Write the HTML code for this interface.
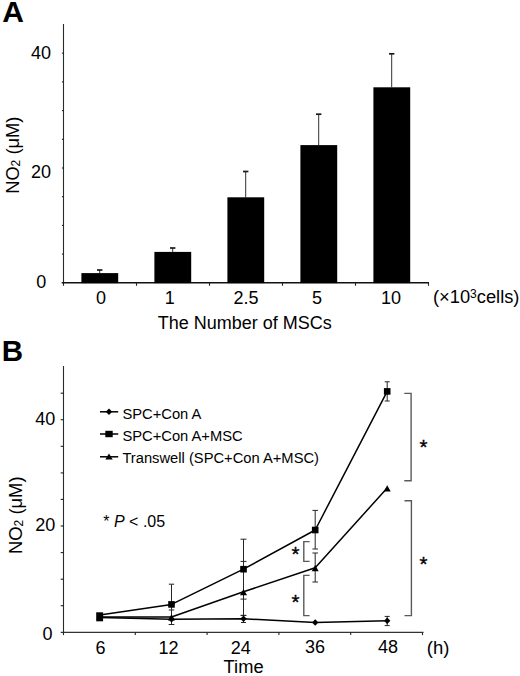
<!DOCTYPE html>
<html><head><meta charset="utf-8">
<style>
html,body{margin:0;padding:0;background:#fff;}
body{width:520px;height:676px;overflow:hidden;}
svg{display:block;font-family:"Liberation Sans",sans-serif;fill:#000;}
</style></head><body>
<svg width="520" height="676" viewBox="0 0 520 676">
<rect x="0" y="0" width="520" height="676" fill="#fff"/>
<!-- Panel A -->
<text x="2.2" y="22" font-size="30" font-weight="bold">A</text>
<line x1="63.5" y1="24" x2="63.5" y2="283.5" stroke="#2a2a2a" stroke-width="1.1"/>
<line x1="61.7" y1="282.8" x2="429" y2="282.8" stroke="#111" stroke-width="1.6"/>
<g stroke="#222" stroke-width="1.1">
<line x1="61.9" y1="254.1" x2="63.5" y2="254.1"/>
<line x1="61.9" y1="225.4" x2="63.5" y2="225.4"/>
<line x1="61.9" y1="196.7" x2="63.5" y2="196.7"/>
<line x1="61.9" y1="168.0" x2="63.5" y2="168.0"/>
<line x1="61.9" y1="139.3" x2="63.5" y2="139.3"/>
<line x1="61.9" y1="110.6" x2="63.5" y2="110.6"/>
<line x1="61.9" y1="81.9" x2="63.5" y2="81.9"/>
<line x1="61.9" y1="53.2" x2="63.5" y2="53.2"/>
<line x1="63.5" y1="282.8" x2="63.5" y2="285.8"/>
<line x1="136.5" y1="282.8" x2="136.5" y2="285.8"/>
<line x1="209.5" y1="282.8" x2="209.5" y2="285.8"/>
<line x1="282.5" y1="282.8" x2="282.5" y2="285.8"/>
<line x1="355.5" y1="282.8" x2="355.5" y2="285.8"/>
<line x1="428.5" y1="282.8" x2="428.5" y2="285.8"/>
</g>
<g fill="#000">
<rect x="81.4" y="273.1" width="36.8" height="10.0"/>
<rect x="154.4" y="251.9" width="36.8" height="31.2"/>
<rect x="227.4" y="197.3" width="36.8" height="85.8"/>
<rect x="300.4" y="145.1" width="36.8" height="138.0"/>
<rect x="373.4" y="87.3" width="36.8" height="195.8"/>
</g>
<g stroke="#1a1a1a" stroke-width="0.9" fill="none">
<path d="M99.7 273.1V270.0"/><path d="M97.0 270.0h5.4" stroke-width="1.7"/>
<path d="M172.7 251.9V248.0"/><path d="M170.0 248.0h5.4" stroke-width="1.7"/>
<path d="M245.7 197.3V171.5"/><path d="M243.0 171.5h5.4" stroke-width="1.7"/>
<path d="M318.7 145.1V114.2"/><path d="M316.0 114.2h5.4" stroke-width="1.7"/>
<path d="M391.7 87.3V53.8"/><path d="M389.0 53.8h5.4" stroke-width="1.7"/>
</g>
<g font-size="18" text-anchor="end">
<text x="51" y="59.0">40</text>
<text x="51" y="178.2">20</text>
<text x="46.2" y="287.6">0</text>
</g>
<g font-size="18" text-anchor="middle">
<text x="101" y="304">0</text>
<text x="169.7" y="304">1</text>
<text x="246" y="304">2.5</text>
<text x="317" y="304">5</text>
<text x="391" y="304">10</text>
<text x="244.8" y="329.2">The Number of MSCs</text>
</g>
<text x="433" y="303.3" font-size="18.3">(×10<tspan font-size="12" dy="-5.5">3</tspan><tspan dy="5.5">cells)</tspan></text>
<text transform="translate(19,193.8) rotate(-90)" font-size="18.3">NO<tspan font-size="12" dy="1">2</tspan><tspan dy="-1"> (μM)</tspan></text>
<!-- Panel B -->
<text x="1.8" y="360.6" font-size="29.5" font-weight="bold">B</text>
<line x1="63.5" y1="366" x2="63.5" y2="632.9" stroke="#2a2a2a" stroke-width="1.1"/>
<line x1="60.7" y1="632.3" x2="423.5" y2="632.3" stroke="#333" stroke-width="1.3"/>
<g stroke="#222" stroke-width="1.1">
<line x1="60.7" y1="605.7" x2="63.5" y2="605.7"/>
<line x1="60.7" y1="579.2" x2="63.5" y2="579.2"/>
<line x1="60.7" y1="552.6" x2="63.5" y2="552.6"/>
<line x1="60.7" y1="526.0" x2="63.5" y2="526.0"/>
<line x1="60.7" y1="499.4" x2="63.5" y2="499.4"/>
<line x1="60.7" y1="472.9" x2="63.5" y2="472.9"/>
<line x1="60.7" y1="446.3" x2="63.5" y2="446.3"/>
<line x1="60.7" y1="419.7" x2="63.5" y2="419.7"/>
<line x1="60.7" y1="393.2" x2="63.5" y2="393.2"/>
<line x1="63.5" y1="632.3" x2="63.5" y2="635.0999999999999"/>
<line x1="135.3" y1="632.3" x2="135.3" y2="635.0999999999999"/>
<line x1="207.1" y1="632.3" x2="207.1" y2="635.0999999999999"/>
<line x1="278.9" y1="632.3" x2="278.9" y2="635.0999999999999"/>
<line x1="350.7" y1="632.3" x2="350.7" y2="635.0999999999999"/>
<line x1="422.5" y1="632.3" x2="422.5" y2="635.0999999999999"/>
</g>
<g stroke="#262626" stroke-width="1" fill="none">
<path d="M171.5 584.2V624.5M168.8 584.2h5.4M168.8 624.5h5.4"/>
<path d="M171.5 610V624.5M168.8 610h5.4M168.8 624.5h5.4"/>
<path d="M243.5 539.2V599.1M240.5 539.2h6M240.5 599.1h6"/>
<path d="M243.5 561.4V615.4M240.5 561.4h6M240.5 615.4h6"/>
<path d="M243.5 615.4V622.5M241.0 615.4h5M241.0 622.5h5"/>
<path d="M315.2 510.4V549M312.4 510.4h5.6M312.4 549h5.6"/>
<path d="M315.2 553V582M312.4 553h5.6M312.4 582h5.6"/>
<path d="M387.2 381.8V401M384.7 381.8h5M384.7 401h5"/>
<path d="M387.2 616.4V625.6M384.7 616.4h5M384.7 625.6h5"/>
</g>
<g stroke="#000" stroke-width="1.5" fill="none" stroke-linejoin="round">
<polyline points="99.9,615.0 171.5,604.4 243.5,569.2 315.2,530 387.2,391.4"/>
<polyline points="99.9,617 171.5,617 243.5,591.8 315.2,567.8 387.2,488"/>
<polyline points="99.9,617.6 171.5,619.2 243.5,618.8 315.2,622.5 387.2,620.8"/>
</g>
<g fill="#000">
<rect x="168.20" y="601.10" width="6.6" height="6.6"/>
<rect x="240.20" y="565.90" width="6.6" height="6.6"/>
<rect x="311.90" y="526.70" width="6.6" height="6.6"/>
<rect x="383.90" y="388.10" width="6.6" height="6.6"/>
<rect x="96.2" y="612.3" width="6.9" height="9"/>
<path d="M171.50 614.20L175.00 620.40H168.00Z"/>
<path d="M243.50 589.00L247.00 595.20H240.00Z"/>
<path d="M315.20 565.00L318.70 571.20H311.70Z"/>
<path d="M387.20 485.20L390.70 491.40H383.70Z"/>
<path d="M171.50 616.00L174.70 619.20L171.50 622.40L168.30 619.20Z"/>
<path d="M243.50 615.60L246.70 618.80L243.50 622.00L240.30 618.80Z"/>
<path d="M315.20 619.30L318.40 622.50L315.20 625.70L312.00 622.50Z"/>
<path d="M387.20 617.60L390.40 620.80L387.20 624.00L384.00 620.80Z"/>
</g>
<g stroke="#5a5a5a" stroke-width="1.4" fill="none">
<path d="M404.3 393.4H411.1V480.8H404.3"/>
<path d="M404.5 500.8H411.4V615.6H404.5"/>
<path d="M309.6 541.6H303.8V561.4H309.6"/>
<path d="M309.6 575.4H303.8V615.6H309.6"/>
</g>
<g font-size="20.5" text-anchor="middle" stroke="#000" stroke-width="0.35">
<text x="423.5" y="453.6">*</text>
<text x="423.5" y="571.2">*</text>
<text x="295.4" y="560.8">*</text>
<text x="295.4" y="609.4">*</text>
</g>
<g stroke="#000" stroke-width="1.5">
<line x1="100" y1="411.8" x2="118.2" y2="411.8"/>
<line x1="100" y1="434" x2="118.2" y2="434"/>
<line x1="100" y1="456.8" x2="118.2" y2="456.8"/>
</g>
<path d="M109.00 408.60L112.20 411.80L109.00 415.00L105.80 411.80Z"/>
<rect x="105.3" y="430.8" width="7.4" height="6.4"/>
<path d="M109.00 453.40L112.70 459.40H105.30Z"/>
<g font-size="14.72">
<text x="122.4" y="419.3">SPC+Con A</text>
<text x="122.4" y="440.9">SPC+Con A+MSC</text>
<text x="122.4" y="463.1">Transwell (SPC+Con A+MSC)</text>
</g>
<text x="103.3" y="526.8" font-size="16">* <tspan font-style="italic">P</tspan> &lt; .05</text>
<g font-size="18" text-anchor="end">
<text x="55.4" y="425.1">40</text>
<text x="55.3" y="531.0">20</text>
<text x="52.5" y="639.8">0</text>
</g>
<g font-size="18" text-anchor="middle">
<text x="100.5" y="653.8">6</text>
<text x="168.6" y="653.8">12</text>
<text x="240.8" y="653.6">24</text>
<text x="315" y="652.6">36</text>
<text x="388" y="652.6">48</text>
<text x="243.6" y="673.2" font-size="18.3">Time</text>
</g>
<text x="426.8" y="653.6" font-size="18.5">(h)</text>
<text transform="translate(21.7,554) rotate(-90)" font-size="18.4">NO<tspan font-size="12" dy="1">2</tspan><tspan dy="-1"> (μM)</tspan></text>
</svg>
</body></html>
